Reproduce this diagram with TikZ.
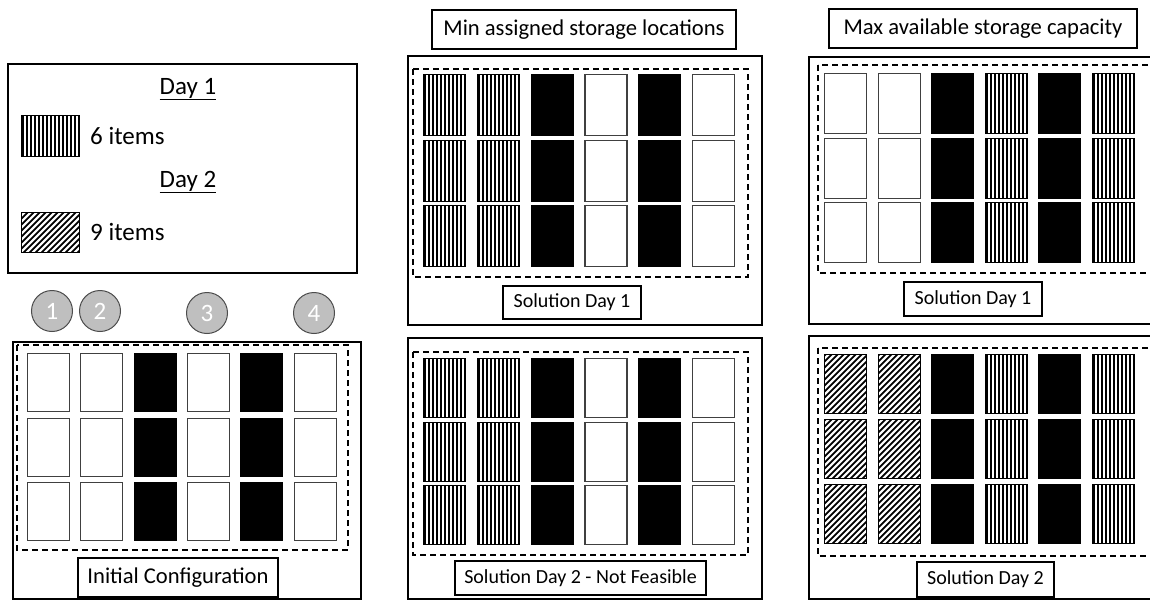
\documentclass[tikz,border=0pt]{standalone}
\usepackage{fontspec}
\setmainfont{Carlito}
\newcommand\txtfont{\fontsize{22.6}{27}\selectfont}
\newcommand\smallfont{\fontsize{20}{24}\selectfont}
\newcommand\legfont{\fontsize{25}{30}\selectfont}
\tikzset{
  cellbase/.style={rectangle, inner sep=0pt, minimum width=42pt, anchor=north west},
  cellE/.style={cellbase, draw=black!75, line width=1.1pt, fill=white},
  cellB/.style={cellbase, draw=black, line width=0.6pt, fill=black},
  cellV/.style={cellbase, draw=black, line width=1.2pt, fill=white,
    path picture={\foreach \k in {0,...,16}
      \draw[black, line width=1.9pt] ([xshift=\k*4pt+1.5pt]path picture bounding box.south west)
        -- ([xshift=\k*4pt+1.5pt]path picture bounding box.north west);}},
  cellD/.style={cellbase, draw=black, line width=1.2pt, fill=white,
    path picture={\foreach \k in {0,...,22}
      \draw[black, line width=1.8pt] ([xshift=\k*6pt-70pt]path picture bounding box.south west)
        -- ++(80pt,80pt);}},
  panel/.style={draw=black, line width=1.3pt},
  dashbox/.style={draw=black, line width=1.1pt, dash pattern=on 6pt off 4pt},
  lbl/.style={rectangle, draw=black, line width=1.1pt, fill=white, inner sep=0pt, font=\txtfont},
  lblS/.style={lbl, font=\smallfont},
  plain/.style={inner sep=0pt, font=\legfont},
  num/.style={circle, fill=black!25, draw=black!70, line width=1pt, text=white, minimum size=41pt, inner sep=0pt, font=\legfont},
}
% #1 name, #2 x0, #3 y0, #4 col step, #5 row step, #6 cell height, #7 types
\newcommand\cellgrid[7]{%
  \foreach \t [count=\c from 0] in {#7} {
    \foreach \r in {0,1,2} {
      \node[cell\t, minimum height=#6pt] (#1-\c-\r) at (#2+\c*#4, #3+\r*#5) {};
    }
  }
}
\begin{document}
\begin{tikzpicture}[x=1pt,y=-1pt]
\clip (0,0) rectangle (1150,600);
\fill[white] (0,0) rectangle (1150,600);

% legend
\draw[panel] (8,64) rectangle (357,273);
\node[plain] (d1) at (188,89) {\underline{Day 1}};
\node[cellV, minimum width=58pt, minimum height=41pt] (sw1) at (21,115) {};
\node[plain, anchor=west] (i6) at (90,136) {6 items};
\node[plain] (d2) at (188,182) {\underline{Day 2}};
\node[cellD, minimum width=58pt, minimum height=40pt] (sw2) at (21,212) {};
\node[plain, anchor=west] (i9) at (90,232) {9 items};

% numbered circles
\node[num] (n1) at (52,311) {1};
\node[num] (n2) at (100,311) {2};
\node[num] (n3) at (207,313) {3};
\node[num] (n4) at (314,313) {4};

% initial configuration
\draw[panel] (13,342) rectangle (361,599);
\draw[dashbox] (17,345) rectangle (348,550);
\cellgrid{ini}{27}{353}{53.3}{64.5}{58}{E,E,B,E,B,E}
\node[lbl, minimum width=200pt, minimum height=39pt] (lini) at (178,577.5) {Initial Configuration};

% titles
\node[lbl, minimum width=304pt, minimum height=39pt] (tmin) at (584,29.5) {Min assigned storage locations};
\node[lbl, minimum width=308pt, minimum height=39pt] (tmax) at (983,28.5) {Max available storage capacity};

% middle top
\draw[panel] (408,56) rectangle (762,325);
\draw[dashbox] (413,69) rectangle (748,277);
\cellgrid{mt}{423}{74}{53.8}{65.5}{61}{V,V,B,E,B,E}
\node[lblS, minimum width=138pt, minimum height=33pt] (lmt) at (572,302.5) {Solution Day 1};

% middle bottom
\draw[panel] (408,338) rectangle (762,599);
\draw[dashbox] (413,352) rectangle (748,555);
\cellgrid{mb}{423}{358}{53.8}{63.5}{59}{V,V,B,E,B,E}
\node[lblS, minimum width=251pt, minimum height=34pt] (lmb) at (580.5,578) {Solution Day 2 - Not Feasible};

% right top
\draw[panel] (809,57) rectangle (1170,324);
\draw[dashbox] (818,65) rectangle (1170,273);
\cellgrid{rt}{824}{73}{53.6}{64.5}{60}{E,E,B,V,B,V}
\node[lblS, minimum width=138pt, minimum height=34pt] (lrt) at (973,299) {Solution Day 1};

% right bottom
\draw[panel] (809,336) rectangle (1170,599);
\draw[dashbox] (818,348) rectangle (1170,556);
\cellgrid{rb}{824}{354}{53.6}{65}{59}{D,D,B,V,B,V}
\node[lblS, minimum width=137pt, minimum height=35pt] (lrb) at (985.5,579.5) {Solution Day 2};
\end{tikzpicture}
\end{document}
